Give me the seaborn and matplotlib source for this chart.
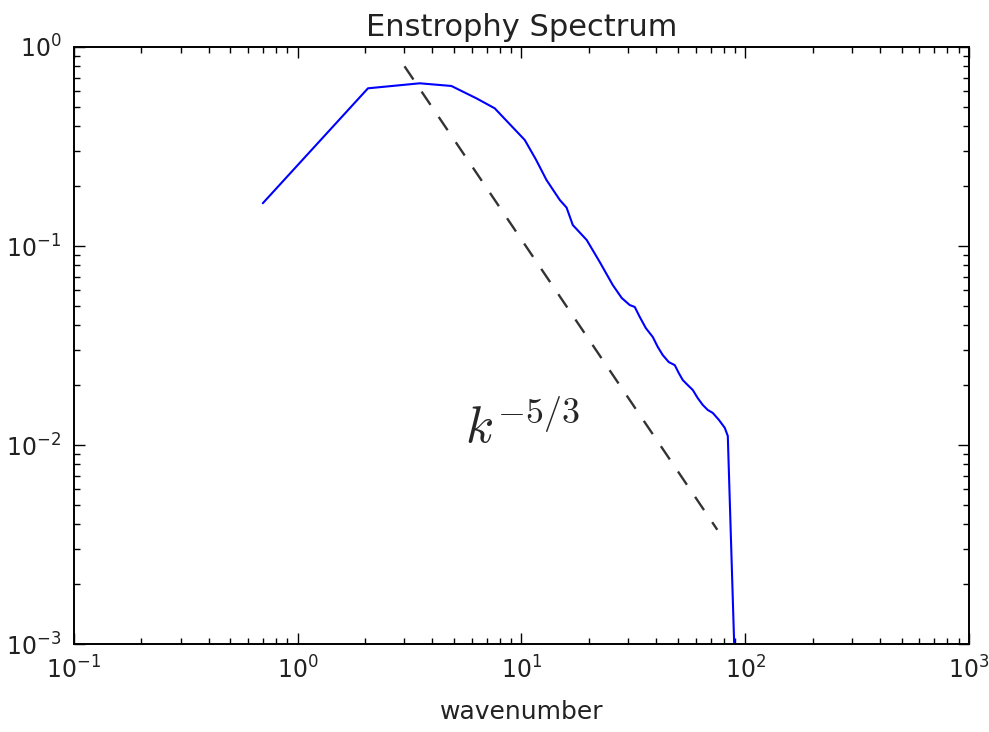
import numpy as np
import pandas as pd
import matplotlib
matplotlib.use("Agg")
import matplotlib.pyplot as plt
import seaborn as sns

# Enstrophy spectrum
wavenumber = [0.698, 2.06, 3.51, 4.86, 6.29, 7.59, 10.34, 11.6, 12.93, 14.83,
              15.9, 16.95, 19.56, 22.37, 25.57, 28.05, 30.46, 32.07, 33.77, 35.93,
              38.61, 40.64, 42.79, 45.52, 48.41, 50.44, 52.57, 55.34, 58.27, 61.33,
              64.57, 67.97, 71.56, 76.12, 80.98, 83.55, 95.0]
enstrophy = [0.164, 0.620, 0.657, 0.637, 0.552, 0.492, 0.341, 0.272, 0.2147, 0.1703,
             0.1560, 0.1275, 0.1072, 0.0831, 0.0637, 0.0548, 0.0505, 0.0494, 0.0440, 0.0387,
             0.0349, 0.0311, 0.0283, 0.0261, 0.0252, 0.0230, 0.0212, 0.0200, 0.0189, 0.0172,
             0.0159, 0.0150, 0.0145, 0.0134, 0.0122, 0.0111, 1e-4]

# k^{-5/3} reference line endpoints
ref_k = [3.0, 75.0]
ref_E = [0.80, 0.00375]

xlim = (1e-1, 1e3)
ylim = (1e-3, 1e0)

sns.set_style("white")
plt.rcParams.update({
    "font.family": ["DejaVu Sans"],
    "mathtext.fontset": "cm",
    "axes.unicode_minus": False,
    "lines.scale_dashes": False,
})

fig = plt.figure(figsize=(9.89, 7.32), dpi=100)
ax = fig.add_axes([0.0748, 0.1202, 0.9050, 0.8156])

spec = pd.DataFrame({"k": wavenumber, "E": enstrophy})
ref = pd.DataFrame({"k": ref_k, "E": ref_E})

sns.lineplot(data=spec, x="k", y="E", ax=ax, color="#0000ff", linewidth=1.5,
             sort=False, estimator=None)
sns.lineplot(data=ref, x="k", y="E", ax=ax, color="black", linewidth=1.7,
             sort=False, estimator=None, dashes=False)
ax.lines[-1].set_dashes((11.5, 10.5))
ax.lines[-1].set_alpha(0.8)

ax.set_xscale("log")
ax.set_yscale("log")
ax.set_xlim(*xlim)
ax.set_ylim(*ylim)

ax.text(5.6, 0.0102, r"$k^{-5/3}$", fontsize=37)

ax.set_title("Enstrophy Spectrum", fontsize=22, pad=8, color="#222222")
ax.set_xlabel("wavenumber", fontsize=18, labelpad=12, color="#222222")
ax.set_ylabel("")

for s in ax.spines.values():
    s.set_visible(True)
    s.set_color("black")
    s.set_linewidth(1.4)

ax.tick_params(which="both", direction="in", top=True, right=True,
               bottom=True, left=True, colors="black", labelcolor="#222222")
ax.tick_params(which="major", length=8, width=1, labelsize=17, pad=9)
ax.tick_params(which="minor", length=4, width=1)
ax.grid(False)

fig.savefig("out.png", dpi=100)
